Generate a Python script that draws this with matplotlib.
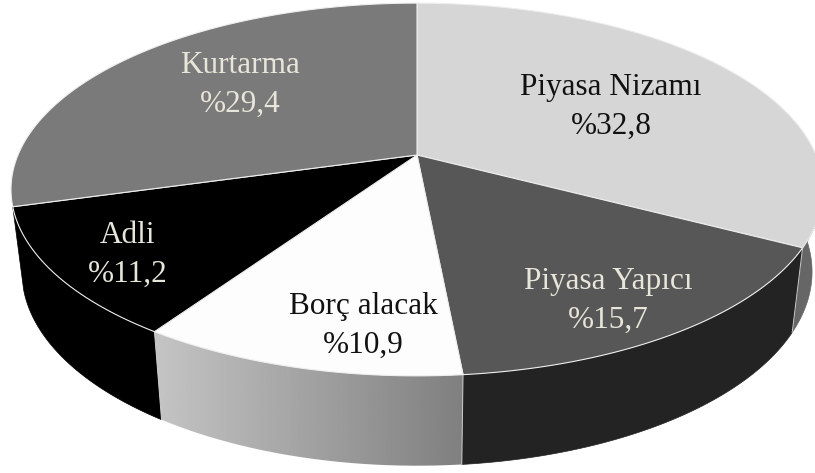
import matplotlib

matplotlib.use("Agg")
import matplotlib.pyplot as plt
import numpy as np
from matplotlib.patches import Polygon

names = ["Piyasa Nizamı", "Piyasa Yapıcı", "Borç alacak", "Adli", "Kurtarma"]
shares = [32.8, 15.7, 10.9, 11.2, 29.4]
top_colors = ["#d6d6d6", "#575757", "#fdfdfd", "#000000", "#7a7a7a"]
side_colors = ["#666666", "#232323", None, "#000000", None]
text_colors = ["#111111", "#e6e6da", "#111111", "#e6e6da", "#e6e6da"]
label_pos = [(611, 107), (608, 301), (363, 326), (128, 255), (240, 85)]

# pixel geometry of the tilted disc
CX, CY = 417, 155
RX, RY = 399, 180
TILT = 0.185


def rim(theta):
    # theta is clockwise from the top of the pie, perspective makes the front bigger
    u, v = np.sin(theta), np.cos(theta)
    d = 1 + TILT * v
    return CX + RX * u / d, CY - RY * v / d


def lower_rim(theta):
    x, y = rim(theta)
    return CX + 0.973 * (x - CX), 236 + 1.04 * (y - CY)


fig = plt.figure(figsize=(8.15, 4.73), dpi=100)
ax = fig.add_axes([0, 0, 1, 1])
ax.set_xlim(0, 815)
ax.set_ylim(473, 0)
ax.axis("off")

edges = np.radians(np.cumsum([0] + shares) * 3.6)

# side walls first, only the ones facing the viewer
for i in range(len(shares)):
    color = side_colors[i]
    if color is None:
        continue
    t = np.linspace(max(edges[i], np.radians(92)), min(edges[i + 1], np.radians(268)), 80)
    if t[0] >= t[-1]:
        continue
    pts = np.vstack([np.column_stack(rim(t)), np.column_stack(lower_rim(t))[::-1]])
    ax.add_patch(Polygon(pts, closed=True, fc=color, ec=color, lw=0.5, zorder=1))

# Borç alacak wall has a gradient
t = np.linspace(edges[2], edges[3], 80)
pts = np.vstack([np.column_stack(rim(t)), np.column_stack(lower_rim(t))[::-1]])
wall = Polygon(pts, closed=True, fc="none", ec="none", transform=ax.transData)
ax.add_patch(wall)
grad = ax.imshow(
    np.linspace(0.77, 0.5, 256).reshape(1, -1),
    cmap="gray", vmin=0, vmax=1, aspect="auto",
    extent=(pts[:, 0].min(), pts[:, 0].max(), 473, 300), zorder=1,
)
grad.set_clip_path(wall)
ax.set_xlim(0, 815)
ax.set_ylim(473, 0)

# thin seam between the walls
for e in edges[1:4]:
    x0, y0 = rim(e)
    x1, y1 = lower_rim(e)
    ax.plot([x0, x1], [y0, y1], color="#cccccc", lw=0.7, zorder=2)

# top surface
for i in range(len(shares)):
    t = np.linspace(edges[i], edges[i + 1], 120)
    xs, ys = rim(t)
    pts = np.column_stack([np.r_[CX, xs], np.r_[CY, ys]])
    ax.add_patch(Polygon(pts, closed=True, fc=top_colors[i], ec="#eeeeee", lw=0.8, zorder=3, joinstyle="round"))

for name, share, color, pos in zip(names, shares, text_colors, label_pos):
    label = name + "\n%" + str(share).replace(".", ",")
    ax.text(pos[0], pos[1], label, color=color, ha="center", va="center",
            family="Liberation Serif", fontsize=22.5, linespacing=1.42, zorder=4)

fig.savefig("out.png", dpi=100)
